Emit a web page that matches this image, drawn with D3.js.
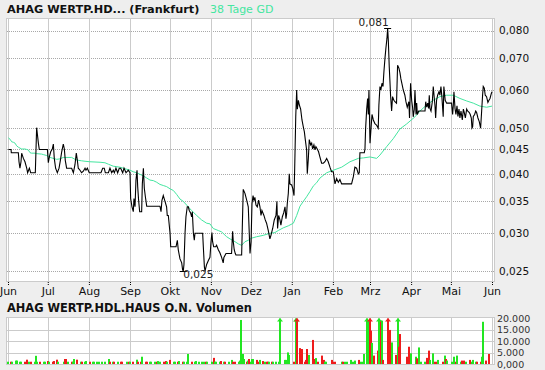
<!DOCTYPE html>
<html>
<head>
<meta charset="utf-8">
<title>AHAG WERTP.HDL.HAUS O.N.</title>
<script src="https://cdnjs.cloudflare.com/ajax/libs/d3/7.8.5/d3.min.js"></script>
<style>
  html, body { margin: 0; padding: 0; background: #eeeeee; }
  svg { display: block; font-family: "DejaVu Sans", Verdana, sans-serif; }
</style>
</head>
<body>
<div id="chart"></div>
<script>
// ---- data (days counted from 1 Jun) ----
var monthLabels = ["Jun","Jul","Aug","Sep","Okt","Nov","Dez","Jan","Feb","Mrz","Apr","Mai","Jun"];
var priceTicks = [0.025, 0.030, 0.035, 0.040, 0.045, 0.050, 0.060, 0.070, 0.080];
var priceTickLabels = ["0,025","0,030","0,035","0,040","0,045","0,050","0,060","0,070","0,080"];
var volTicks = [0, 5000, 10000, 15000, 20000];
var volTickLabels = ["0,000","5.000","10.000","15.000","20.000"];

var priceDays = [0.3,2.3,2.5,7.8,8.3,9.0,9.8,10.3,11.6,12.8,14.1,14.8,16.1,17.1,20.6,21.6,22.1,22.9,23.6,29.7,
  30.4,31.2,32.2,33.4,34.2,34.9,35.9,37.2,38.5,39.5,40.5,41.7,42.5,43.2,44.2,48.0,49.3,50.5,51.5,52.3,
  53.0,54.3,55.5,56.8,58.1,58.8,59.8,61.3,70.1,71.4,72.6,73.4,75.7,76.9,78.2,79.4,80.2,81.4,82.7,83.9,
  85.0,86.5,87.5,89.0,90.7,92.0,92.5,93.5,94.5,95.0,95.8,96.5,97.3,97.8,98.5,99.3,100.8,101.3,102.1,102.8,
  103.6,104.6,114.6,115.4,116.1,117.1,118.4,119.6,120.1,120.9,122.2,122.7,126.7,127.7,128.4,129.7,131.0,131.7,132.2,132.7,
  133.5,134.2,135.2,136.0,136.7,137.7,138.5,139.0,139.8,140.5,141.0,146.8,147.3,148.1,148.6,149.8,151.1,152.3,153.1,153.8,
  154.3,155.1,156.6,157.3,158.6,159.8,161.1,162.3,162.8,164.4,168.6,169.4,169.9,170.6,171.4,171.9,176.2,176.7,177.4,178.7,
  180.0,181.2,182.0,182.5,183.3,184.0,184.8,185.5,186.2,187.0,188.0,189.0,190.0,190.8,191.5,193.0,194.0,195.0,196.3,197.5,
  198.3,199.6,200.8,202.1,202.8,203.3,204.1,205.1,205.8,206.9,207.9,208.9,209.6,210.1,210.6,211.4,212.1,212.6,213.9,214.7,
  215.7,216.2,217.0,217.7,218.2,219.0,219.7,220.7,221.7,222.7,223.5,224.2,225.2,225.7,226.5,227.2,228.2,229.0,229.7,230.7,
  231.5,232.2,233.2,234.2,235.2,236.5,237.8,239.0,240.3,241.5,242.8,244.0,245.3,246.6,247.8,249.1,250.3,251.6,259.1,260.4,
  261.6,262.9,264.2,264.9,265.4,268.7,269.2,269.7,270.5,271.2,271.7,272.2,273.0,273.7,274.5,275.5,276.7,278.0,279.2,279.7,
  280.5,281.2,282.0,282.8,283.5,284.3,285.0,285.8,286.3,286.8,287.5,288.0,288.5,289.3,290.0,291.0,291.8,293.0,293.8,294.8,
  295.6,296.3,297.3,298.1,299.3,300.1,301.1,302.3,302.8,303.6,304.4,305.1,305.6,306.4,306.9,307.7,308.2,308.7,309.7,314.5,
  315.0,315.8,316.5,317.2,317.7,318.2,319.0,320.0,320.7,321.5,322.0,322.5,323.2,324.0,325.0,325.7,326.5,327.2,328.2,328.7,
  329.7,330.8,334.5,335.3,335.8,336.3,337.1,337.8,338.6,339.3,340.1,340.8,341.6,342.6,343.4,344.1,344.9,345.9,346.6,347.9,
  348.6,349.4,349.9,350.4,350.9,351.9,352.7,353.4,354.4,355.4,356.4,357.2,357.9,358.4,359.2,359.9,360.9,361.9,362.7,363.5,
  364.5,365.0];
var priceValues = [0.0450,0.0450,0.0443,0.0443,0.0424,0.0411,0.0424,0.0442,0.0431,0.0424,0.0411,0.0402,0.0411,0.0402,0.0402,0.0500,0.0486,0.0464,0.0450,0.0450,
  0.0422,0.0434,0.0445,0.0451,0.0462,0.0431,0.0411,0.0402,0.0411,0.0427,0.0445,0.0462,0.0451,0.0427,0.0411,0.0411,0.0402,0.0418,0.0442,0.0427,
  0.0411,0.0407,0.0402,0.0405,0.0411,0.0407,0.0411,0.0402,0.0402,0.0411,0.0411,0.0402,0.0402,0.0411,0.0402,0.0407,0.0402,0.0411,0.0402,0.0411,
  0.0411,0.0402,0.0411,0.0402,0.0407,0.0402,0.0355,0.0341,0.0333,0.0355,0.0341,0.0388,0.0407,0.0376,0.0352,0.0333,0.0333,0.0381,0.0411,0.0373,
  0.0358,0.0342,0.0342,0.0333,0.0352,0.0360,0.0350,0.0341,0.0327,0.0327,0.0300,0.0281,0.0281,0.0290,0.0277,0.0265,0.0260,0.0251,0.0250,0.0258,
  0.0300,0.0325,0.0341,0.0341,0.0335,0.0331,0.0325,0.0333,0.0300,0.0290,0.0300,0.0300,0.0281,0.0255,0.0250,0.0258,0.0263,0.0267,0.0288,0.0301,
  0.0288,0.0281,0.0281,0.0283,0.0277,0.0273,0.0267,0.0260,0.0267,0.0272,0.0272,0.0303,0.0288,0.0277,0.0272,0.0270,0.0270,0.0309,0.0371,0.0364,
  0.0352,0.0341,0.0297,0.0272,0.0288,0.0346,0.0360,0.0352,0.0357,0.0344,0.0341,0.0352,0.0341,0.0327,0.0335,0.0327,0.0320,0.0315,0.0304,0.0292,
  0.0297,0.0307,0.0320,0.0327,0.0350,0.0307,0.0327,0.0320,0.0312,0.0325,0.0331,0.0341,0.0322,0.0329,0.0346,0.0364,0.0400,0.0381,0.0379,0.0373,
  0.0360,0.0411,0.0527,0.0600,0.0547,0.0571,0.0558,0.0547,0.0519,0.0502,0.0490,0.0472,0.0449,0.0400,0.0431,0.0472,0.0460,0.0464,0.0451,0.0460,
  0.0449,0.0456,0.0451,0.0445,0.0434,0.0421,0.0421,0.0424,0.0431,0.0424,0.0413,0.0404,0.0404,0.0381,0.0391,0.0384,0.0389,0.0381,0.0381,0.0394,
  0.0413,0.0411,0.0400,0.0402,0.0443,0.0443,0.0451,0.0499,0.0547,0.0576,0.0533,0.0600,0.0464,0.0495,0.0533,0.0519,0.0510,0.0506,0.0499,0.0558,
  0.0610,0.0600,0.0620,0.0610,0.0656,0.0700,0.0735,0.0771,0.0810,0.0764,0.0672,0.0628,0.0585,0.0542,0.0581,0.0571,0.0567,0.0563,0.0676,0.0667,
  0.0652,0.0633,0.0614,0.0600,0.0585,0.0567,0.0552,0.0567,0.0524,0.0620,0.0571,0.0552,0.0527,0.0547,0.0600,0.0533,0.0563,0.0533,0.0542,0.0542,
  0.0567,0.0552,0.0563,0.0549,0.0585,0.0549,0.0542,0.0567,0.0610,0.0576,0.0556,0.0524,0.0571,0.0585,0.0595,0.0585,0.0610,0.0581,0.0527,0.0610,
  0.0571,0.0563,0.0563,0.0533,0.0556,0.0595,0.0549,0.0533,0.0556,0.0528,0.0547,0.0524,0.0542,0.0519,0.0547,0.0538,0.0524,0.0547,0.0542,0.0538,
  0.0533,0.0524,0.0499,0.0502,0.0528,0.0533,0.0542,0.0538,0.0524,0.0515,0.0499,0.0542,0.0585,0.0610,0.0605,0.0585,0.0581,0.0565,0.0571,0.0576,
  0.0590,0.0595];

var avgDays = [0.3,1.5,2.8,4.0,5.3,6.5,7.8,9.0,10.3,12.8,14.1,15.3,16.6,17.8,20.4,21.6,25.4,26.6,29.2,31.7,
  36.7,39.2,41.7,48.0,50.5,53.0,55.5,58.1,61.8,69.4,73.1,75.7,79.4,84.4,89.5,92.0,94.5,97.0,99.5,102.0,
  104.6,107.1,109.6,112.1,114.6,117.1,119.6,122.2,124.7,127.2,129.7,132.2,135.9,138.4,142.3,146.0,149.8,152.3,154.8,158.6,
  161.1,164.9,167.4,171.2,173.7,176.2,178.7,181.2,183.7,187.5,192.5,197.5,201.3,203.8,207.6,211.4,215.2,217.7,220.2,222.7,
  225.2,227.7,230.2,232.7,235.3,240.3,245.3,251.6,257.9,264.2,268.0,273.0,278.0,280.5,285.5,290.5,295.6,300.6,306.9,310.7,
  315.7,320.7,325.7,330.8,335.8,340.8,345.9,350.9,355.9,360.9,365.0];
var avgValues = [0.0476,0.0473,0.0467,0.0466,0.0464,0.0458,0.0455,0.0453,0.0451,0.0451,0.0450,0.0449,0.0443,0.0442,0.0442,0.0441,0.0440,0.0439,0.0437,0.0433,
  0.0429,0.0430,0.0433,0.0433,0.0429,0.0427,0.0426,0.0425,0.0424,0.0423,0.0422,0.0419,0.0415,0.0413,0.0409,0.0407,0.0404,0.0402,0.0399,0.0396,
  0.0392,0.0388,0.0387,0.0384,0.0380,0.0378,0.0376,0.0372,0.0369,0.0362,0.0354,0.0350,0.0341,0.0335,0.0327,0.0320,0.0315,0.0314,0.0307,0.0304,
  0.0302,0.0295,0.0292,0.0288,0.0285,0.0283,0.0288,0.0290,0.0293,0.0295,0.0297,0.0300,0.0301,0.0304,0.0308,0.0311,0.0315,0.0327,0.0342,0.0350,
  0.0358,0.0367,0.0377,0.0383,0.0392,0.0402,0.0407,0.0413,0.0424,0.0431,0.0432,0.0434,0.0431,0.0438,0.0456,0.0474,0.0497,0.0509,0.0527,0.0542,
  0.0558,0.0571,0.0581,0.0585,0.0585,0.0576,0.0569,0.0563,0.0555,0.0552,0.0555];

var volDays = [0,2,3,6,7,9,10,13,14,16,17,20,21,22,24,27,28,30,31,34,35,37,38,42,43,44,45,48,49,50,
  52,55,56,58,59,62,64,65,67,69,71,73,76,77,79,80,83,85,86,90,91,92,94,97,98,100,101,104,105,107,
  108,111,112,113,115,118,119,120,122,125,126,128,129,132,133,135,136,139,141,142,144,146,148,149,150,154,155,156,157,160,
  161,163,164,167,169,170,171,174,175,176,177,178,180,181,182,183,184,185,188,189,190,192,194,195,196,197,199,200,202,204,
  205,209,210,211,212,216,217,218,220,222,223.9,224.7,225.4,226.9,230,231,232.6,234,237,238,239,240,244,245.3,246.6,251.6,252.9,254.1,255.4,258.4,
  259.6,260.9,261.7,264.9,266.2,267.4,268.7,271,272.2,273,273.7,274.7,276.2,279.2,280,281,282.3,283,286.8,288,288.8,289.8,292.5,293.8,
  294.8,295.8,301.1,302.4,303.9,307.4,308.6,310.1,311.2,314.4,316.2,317.4,318.2,320.7,322,323.2,324.5,328.3,329.5,330.3,331.3,335,336.3,337.5,
  338.8,341.3,342.6,343.8,345.1,348.4,349.6,350.9,352.6,353.4,356.4,357.6,358.4,360.4,362.9];
var volValues = [1000,1000,1000,1500,1500,1000,1000,1000,1900,1000,1000,1000,3600,1000,1000,1000,1000,1300,1000,1000,1300,1900,1000,1000,2200,2200,1000,1000,1000,2200,
  1900,1000,1000,1000,1300,1000,1000,1000,1000,1000,1000,1000,2200,1000,1000,1000,1000,1000,1000,1000,1000,1000,1000,1900,1000,1000,3200,1000,1000,1000,
  1000,1000,1000,1300,1000,1000,1300,1000,1800,1000,1000,1000,1300,1000,1000,1000,4400,1000,1000,1300,1000,1000,1000,1000,1000,1000,2700,1000,1000,1000,
  1300,1000,1000,1000,1800,1000,1000,1000,1500,19400,4400,2200,1000,1500,2200,1000,2200,2200,1800,1000,1800,1300,1000,1000,1000,1000,1000,1000,1000,1000,
  25000,1800,1800,5100,4000,1000,25000,25000,7000,6600,1000,1800,6600,4000,10600,2200,2600,1000,3700,1800,1000,1000,1800,1000,1000,1000,1000,1000,1000,1800,
  1000,1000,1500,1800,1000,1000,4400,25000,19000,25000,14700,9300,3700,5900,25000,19100,19100,1800,25000,15000,8400,9500,4000,25000,
  7600,13200,3200,7600,4700,3200,2500,7300,1000,1000,2700,5900,1800,4700,1000,1000,1800,1000,3700,2200,1500,1000,3200,1000,
  3700,1000,1500,1500,1000,1800,1000,1800,1000,1000,1000,3200,18600,1500,4400];
var volUp = [1,0,1,1,1,1,1,0,0,1,0,1,1,1,0,1,1,0,1,0,0,0,1,1,0,0,1,0,1,1,
  0,1,0,1,1,0,1,1,1,1,1,1,1,0,1,0,1,0,0,1,0,1,0,1,0,0,1,0,0,1,
  1,1,0,1,1,0,0,1,0,1,1,0,1,0,1,1,1,0,1,1,1,1,1,0,1,1,0,1,1,1,
  0,1,0,1,1,0,0,1,1,1,1,1,0,1,0,1,1,1,0,0,1,0,1,0,0,1,0,1,1,1,
  1,1,1,1,1,0,1,0,0,0,0,0,0,1,0,0,1,0,0,0,1,1,0,0,0,1,0,1,1,1,
  1,1,1,0,1,1,1,1,1,0,0,1,0,0,1,0,1,0,0,0,0,1,0,1,
  0,0,0,0,1,1,0,1,1,1,0,0,1,1,0,0,1,0,1,0,1,1,1,0,
  1,1,0,0,1,0,1,1,1,0,0,1,1,0,0];

// ---- layout ----
var width = 545, height = 370;
var plot = {left: 6, right: 495, top: 18, bottom: 282};
var vbox = {top: 317, bottom: 365};
var START = Date.UTC(2014, 5, 1), END = Date.UTC(2015, 5, 1);
function toDate(d) { return new Date(START + d * 864e5); }

var textColor = "#111", gridColor = "#cbcbcb", avgColor = "#44e6a0";
var upColor = "#22e622", downColor = "#ee1c1c";

var svg = d3.select("#chart").append("svg")
  .attr("width", width).attr("height", height);

svg.append("rect").attr("width", width).attr("height", height).attr("fill", "#eeeeee");

var x = d3.scaleUtc().domain([new Date(START), new Date(END)]).range([8, 492]);
var y = d3.scaleLog().domain([0.0237, 0.085]).range([plot.bottom, plot.top]);
var yv = d3.scaleLinear().domain([0, 20000]).range([364, 318.6]);
var months = d3.utcMonth.range(new Date(START), new Date(END + 1));

// titles
svg.append("text").attr("x", 7).attr("y", 13)
  .attr("font-size", 11.3).attr("font-weight", "bold").attr("fill", textColor)
  .text("AHAG WERTP.HD... (Frankfurt)");
svg.append("text").attr("x", 210).attr("y", 13)
  .attr("font-size", 11).attr("fill", avgColor)
  .text("38 Tage GD");
svg.append("text").attr("x", 7).attr("y", 312)
  .attr("font-size", 11.4).attr("font-weight", "bold").attr("fill", textColor)
  .text("AHAG WERTP.HDL.HAUS O.N. Volumen");

// ---- price panel ----
svg.append("rect")
  .attr("x", plot.left + 0.5).attr("y", plot.top + 0.5)
  .attr("width", plot.right - plot.left - 1).attr("height", plot.bottom - plot.top - 1)
  .attr("fill", "#fff").attr("stroke", gridColor);

svg.append("defs").append("clipPath").attr("id", "clip")
  .append("rect").attr("x", plot.left + 1).attr("y", plot.top + 1)
  .attr("width", plot.right - plot.left - 2).attr("height", plot.bottom - plot.top - 2);

svg.append("g").selectAll("line").data(priceTicks).enter().append("line")
  .attr("x1", plot.left + 1).attr("x2", plot.right - 1)
  .attr("y1", function(d) { return Math.round(y(d)) + 0.5; })
  .attr("y2", function(d) { return Math.round(y(d)) + 0.5; })
  .attr("stroke", "#a8a8a8").attr("stroke-dasharray", "1,1");

svg.append("g").selectAll("line").data(months).enter().append("line")
  .attr("x1", function(d) { return Math.round(x(d)) + 0.5; })
  .attr("x2", function(d) { return Math.round(x(d)) + 0.5; })
  .attr("y1", plot.top + 1).attr("y2", plot.bottom - 1)
  .attr("stroke", gridColor);

var xAxis = svg.append("g").attr("transform", "translate(0," + plot.bottom + ")")
  .call(d3.axisBottom(x).tickValues(months)
    .tickFormat(function(d, i) { return monthLabels[i]; })
    .tickSize(4).tickPadding(1));
xAxis.select(".domain").remove();
xAxis.selectAll("line").attr("stroke", "#000").attr("stroke-dasharray", "1,1");
xAxis.selectAll("text").attr("font-size", 11).attr("fill", textColor)
  .attr("font-family", "DejaVu Sans, Verdana, sans-serif");

var yAxis = svg.append("g").attr("transform", "translate(" + (plot.right - 1) + ",0)")
  .call(d3.axisRight(y).tickValues(priceTicks)
    .tickFormat(function(d, i) { return priceTickLabels[i]; })
    .tickSize(0).tickPadding(5));
yAxis.select(".domain").remove();
yAxis.selectAll("text").attr("font-size", 10.5).attr("fill", textColor)
  .attr("font-family", "DejaVu Sans, Verdana, sans-serif");

var price = priceDays.map(function(d, i) { return {date: toDate(d), value: priceValues[i]}; });
var avg = avgDays.map(function(d, i) { return {date: toDate(d), value: avgValues[i]}; });

var line = d3.line()
  .x(function(d) { return x(d.date); })
  .y(function(d) { return y(d.value); });

var lines = svg.append("g").attr("clip-path", "url(#clip)");
lines.append("path").datum(avg).attr("d", line)
  .attr("fill", "none").attr("stroke", avgColor).attr("stroke-width", 1);
lines.append("path").datum(price).attr("d", line)
  .attr("fill", "none").attr("stroke", "#000").attr("stroke-width", 1.1);

// high / low markers
var fmt = function(v) { return d3.format(".3f")(v).replace(".", ","); };
var lo = price[d3.minIndex(price, function(d) { return d.value; })];
var hi = price[d3.maxIndex(price, function(d) { return d.value; })];

[lo, hi].forEach(function(p) {
  svg.append("line")
    .attr("x1", x(p.date) - 3.5).attr("x2", x(p.date) + 3.5)
    .attr("y1", Math.round(y(p.value)) + 0.5).attr("y2", Math.round(y(p.value)) + 0.5)
    .attr("stroke", "#000");
});
svg.append("text").attr("x", x(lo.date)).attr("y", y(lo.value) + 7)
  .attr("font-size", 10.5).attr("fill", "#222").text(fmt(lo.value));
svg.append("text").attr("x", x(hi.date) + 1).attr("y", y(hi.value) - 2)
  .attr("text-anchor", "end").attr("font-size", 10.5).attr("fill", "#222").text(fmt(hi.value));

// ---- volume panel ----
svg.append("rect")
  .attr("x", plot.left + 0.5).attr("y", vbox.top + 0.5)
  .attr("width", plot.right - plot.left - 1).attr("height", vbox.bottom - vbox.top - 1)
  .attr("fill", "#fff").attr("stroke", gridColor);

svg.append("g").selectAll("line").data(volTicks.slice(1, 4)).enter().append("line")
  .attr("x1", plot.left + 1).attr("x2", plot.right - 1)
  .attr("y1", function(d) { return Math.round(yv(d)) + 0.5; })
  .attr("y2", function(d) { return Math.round(yv(d)) + 0.5; })
  .attr("stroke", gridColor);

svg.append("g").selectAll("line").data(months).enter().append("line")
  .attr("x1", function(d) { return Math.round(x(d)) + 0.5; })
  .attr("x2", function(d) { return Math.round(x(d)) + 0.5; })
  .attr("y1", vbox.top + 1).attr("y2", vbox.bottom - 1)
  .attr("stroke", gridColor);

var vAxis = svg.append("g").attr("transform", "translate(" + (plot.right - 1) + ",0)")
  .call(d3.axisRight(yv).tickValues(volTicks)
    .tickFormat(function(d, i) { return volTickLabels[i]; })
    .tickSize(0).tickPadding(3));
vAxis.select(".domain").remove();
vAxis.selectAll("text").attr("font-size", 9.5).attr("fill", "#333")
  .attr("font-family", "DejaVu Sans, Verdana, sans-serif");

var vols = volDays.map(function(d, i) {
  return {date: toDate(d), value: volValues[i], up: volUp[i] == 1};
});

var bars = svg.append("g");
bars.selectAll("rect").data(vols).enter().append("rect")
  .attr("x", function(d) { return Math.round(x(d.date)) - 1; })
  .attr("y", function(d) { return yv(Math.min(d.value, 20000)); })
  .attr("width", 2)
  .attr("height", function(d) { return yv(0) - yv(Math.min(d.value, 20000)); })
  .attr("fill", function(d) { return d.up ? upColor : downColor; });

// arrows for volumes above the scale
bars.selectAll("path").data(vols.filter(function(d) { return d.value > 20000; })).enter().append("path")
  .attr("d", function(d) {
    var cx = Math.round(x(d.date));
    return "M" + (cx - 3) + ",321.5L" + (cx + 3) + ",321.5L" + cx + ",318Z";
  })
  .attr("fill", function(d) { return d.up ? upColor : downColor; });
</script>
</body>
</html>
